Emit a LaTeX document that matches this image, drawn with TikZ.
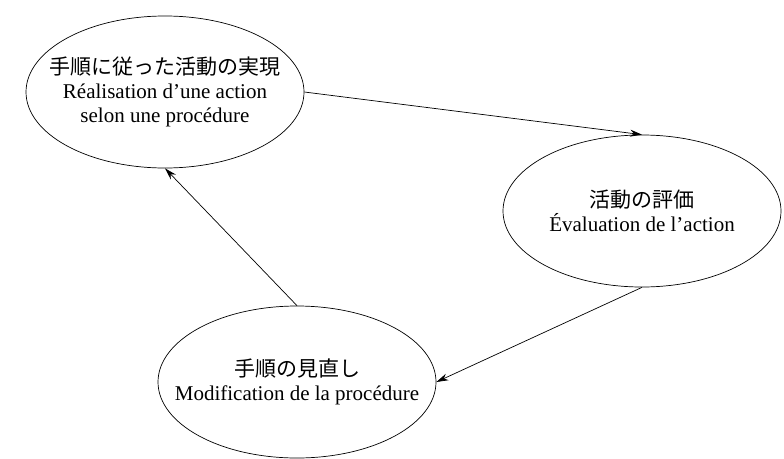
\documentclass[tikz,border=0pt]{standalone}
\usepackage{fontspec}
\setmainfont{Liberation Serif}
\newfontfamily\jpfont{Noto Sans CJK JP}
\usetikzlibrary{shapes.geometric,arrows.meta}
\begin{document}
\begin{tikzpicture}[x=1pt, y=-1pt,
    phase/.style ={ellipse, draw, line width=0.7pt, inner sep=0pt,
      minimum width=278pt, minimum height=152pt},
    phasetext/.style ={align=center, font=\fontsize{21}{24}\selectfont}]
   \useasboundingbox (0,0) rectangle (784,458);
   \node[phase] (R) [label={[phasetext]center:{\jpfont 手順に従った活動の実現}\\R\'ealisation d'une action\\selon une proc\'edure}] at (165,92) {};
   \node[phase] (E) [label={[phasetext]center:{\jpfont 活動の評価}\\\'Evaluation de l'action}] at (642,211) {};
   \node[phase] (M) [label={[phasetext]center:{\jpfont 手順の見直し}\\Modification de la proc\'edure}] at (297,382) {};
   \draw[line width=0.7pt, -{Stealth[length=12pt,width=7pt]}] (R.east) -- (E.north);
   \draw[line width=0.7pt, -{Stealth[length=12pt,width=7pt]}] (E.south) -- (M.east);
   \draw[line width=0.7pt, -{Stealth[length=12pt,width=7pt]}] (M.north) -- (R.south);
\end{tikzpicture}
\end{document}
